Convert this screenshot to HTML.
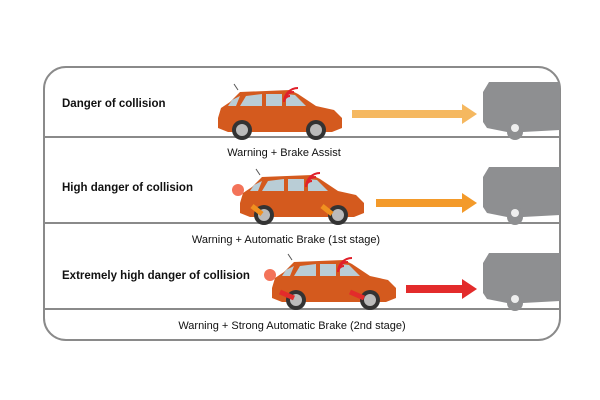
<!DOCTYPE html>
<html><head><style>
body{margin:0;background:#fff;}
svg{display:block;}
text{font-family:"Liberation Sans",sans-serif;fill:#111;}
</style></head><body>
<svg width="600" height="400" viewBox="0 0 600 400">
<defs>
<g id="car">
 <path d="M0,26 L3,16 L12,10 L22,0 L72,-2 L80,2 L98,14 L116,18 L124,26 L124,36 L114,40 L10,40 L0,36 Z" fill="#d45a1e"/>
 <path d="M28,4 L44,2 L44,14 L22,14 Z" fill="#b9cdd6"/>
 <path d="M48,2 L64,2 L64,14 L48,14 Z" fill="#b9cdd6"/>
 <path d="M68,2 L77,3 L88,14 L68,14 Z" fill="#b9cdd6"/>
 <path d="M14,8 L22,4 L18,14 L10,14 Z" fill="#b9cdd6"/>
 <path d="M20,-2 L16,-8" stroke="#555" stroke-width="1"/>
 <circle cx="24" cy="38" r="10" fill="#333"/><circle cx="24" cy="38" r="6" fill="#bbb"/>
 <circle cx="98" cy="38" r="10" fill="#333"/><circle cx="98" cy="38" r="6" fill="#bbb"/>
 <path d="M66,10 a6,6 0 0 1 6,-6 M66,10 a10,10 0 0 1 10,-10 M66,10 a14,14 0 0 1 14,-14" stroke="#e0202a" stroke-width="2" fill="none"/>
</g>
<g id="truck">
 <path d="M6,0 L77,0 L77,48 L40,50 a8,8 0 0 1 -16,0 L4,46 L0,40 L0,10 Z" fill="#8e8f91"/>
 <circle cx="32" cy="46" r="7" fill="#8e8f91"/><circle cx="32" cy="46" r="4" fill="#eee"/>
</g>
</defs>
<rect x="44" y="67" width="516" height="273" rx="22" fill="none" stroke="#8a8a8a" stroke-width="2"/>
<line x1="44" y1="137" x2="560" y2="137" stroke="#8a8a8a" stroke-width="2"/>
<line x1="44" y1="223" x2="560" y2="223" stroke="#8a8a8a" stroke-width="2"/>
<line x1="44" y1="309" x2="560" y2="309" stroke="#8a8a8a" stroke-width="2"/>
<use href="#truck" x="483" y="82"/>
<use href="#truck" x="483" y="167"/>
<use href="#truck" x="483" y="253"/>
<use href="#car" x="218" y="92"/>
<use href="#car" x="240" y="177"/>
<use href="#car" x="272" y="262"/>
<circle cx="238" cy="190" r="6" fill="#f05030" opacity="0.8"/>
<circle cx="270" cy="275" r="6" fill="#f05030" opacity="0.8"/>
<path d="M252,206 l10,8 M322,206 l10,8" stroke="#f09020" stroke-width="5"/>
<path d="M280,292 l14,6 M350,292 l14,6" stroke="#e32b2b" stroke-width="5"/>
<path d="M352,110 H462 V104 L477,114 L462,124 V118 H352 Z" fill="#f5b860"/>
<path d="M376,199 H462 V193 L477,203 L462,213 V207 H376 Z" fill="#f39a2a"/>
<path d="M406,285 H462 V279 L477,289 L462,299 V293 H406 Z" fill="#e32b2b"/>
<text x="62" y="107" font-size="11.5" font-weight="bold">Danger of collision</text>
<text x="62" y="191" font-size="11.5" font-weight="bold">High danger of collision</text>
<text x="62" y="279" font-size="11.5" font-weight="bold">Extremely high danger of collision</text>
<text x="284" y="156" font-size="11" text-anchor="middle">Warning + Brake Assist</text>
<text x="286" y="243" font-size="11" text-anchor="middle">Warning + Automatic Brake (1st stage)</text>
<text x="292" y="329" font-size="11" text-anchor="middle">Warning + Strong Automatic Brake (2nd stage)</text>
</svg>
</body></html>
